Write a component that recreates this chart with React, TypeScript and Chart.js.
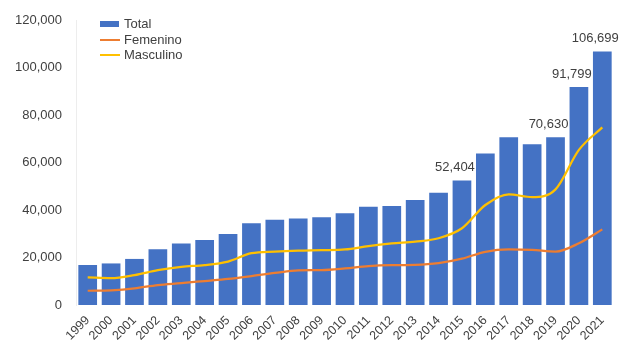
import React, { useEffect, useRef } from "react";
import { Chart, registerables } from "chart.js";

Chart.register(...registerables);

const years = ["1999","2000","2001","2002","2003","2004","2005","2006","2007","2008","2009","2010","2011","2012","2013","2014","2015","2016","2017","2018","2019","2020","2021"];
const total = [16840,17500,19400,23450,25900,27400,29900,34400,35900,36400,36900,38600,41400,41700,44200,47300,52404,63800,70600,67700,70630,91799,106699];
const femenino = [6000,6200,7000,8400,9200,10100,11000,12200,13500,14600,14700,15400,16400,16800,16900,17600,19500,22400,23400,23200,22500,26000,31850];
const masculino = [11600,11300,12600,14700,16100,16800,18300,21800,22500,22900,23100,23400,24800,25900,26700,28100,32300,42100,46600,45400,48700,65300,74800];
const labeledYears = ["2015","2019","2020","2021"];
const yTicks = [0, 20000, 40000, 60000, 80000, 100000, 120000];

const fmt = (v: number) => v.toLocaleString("en-US");

const FONT = "'Liberation Sans', Arial, sans-serif";
const TEXT = "#404040";

const barLabelPlugin = {
  id: "barLabels",
  afterDatasetsDraw(chart: any) {
    const ctx = chart.ctx;
    const meta = chart.getDatasetMeta(0);
    ctx.save();
    ctx.font = `13px ${FONT}`;
    ctx.fillStyle = TEXT;
    ctx.textAlign = "center";
    ctx.textBaseline = "middle";
    meta.data.forEach((el: any, i: number) => {
      const year = chart.data.labels[i];
      if (!labeledYears.includes(year)) return;
      const v = chart.data.datasets[0].data[i];
      ctx.fillText(fmt(v), el.x - 7, el.y - 13);
    });
    ctx.restore();
  },
};

const legendPlugin = {
  id: "customLegend",
  afterDraw(chart: any) {
    const ctx = chart.ctx;
    const x0 = 100;
    const ys = [24, 40, 55];
    ctx.save();
    ctx.font = `13px ${FONT}`;
    ctx.textBaseline = "middle";
    ctx.textAlign = "left";
    chart.data.datasets.forEach((ds: any, i: number) => {
      const y = ys[i];
      if (ds.type === "bar") {
        ctx.fillStyle = ds.backgroundColor;
        ctx.fillRect(x0, y - 3, 19, 6);
      } else {
        ctx.strokeStyle = ds.borderColor;
        ctx.lineWidth = 2;
        ctx.beginPath();
        ctx.moveTo(x0, y);
        ctx.lineTo(x0 + 20, y);
        ctx.stroke();
      }
      ctx.fillStyle = TEXT;
      ctx.fillText(ds.label, x0 + 24, y);
    });
    ctx.restore();
  },
};

export default function App() {
  const ref = useRef<HTMLCanvasElement | null>(null);
  useEffect(() => {
    document.body.style.margin = "0";
    const canvas = ref.current!;
    const chart = new Chart(canvas, {
      data: {
        labels: years,
        datasets: [
          {
            type: "bar",
            label: "Total",
            data: total,
            backgroundColor: "#4472C4",
            categoryPercentage: 1,
            barPercentage: 0.8,
            order: 3,
          },
          {
            type: "line",
            label: "Femenino",
            data: femenino,
            borderColor: "#ED7D31",
            borderWidth: 2.25,
            pointRadius: 0,
            cubicInterpolationMode: "monotone",
            order: 1,
          },
          {
            type: "line",
            label: "Masculino",
            data: masculino,
            borderColor: "#FFC000",
            borderWidth: 2.25,
            pointRadius: 0,
            cubicInterpolationMode: "monotone",
            order: 2,
          },
        ],
      } as any,
      options: {
        animation: false,
        responsive: false,
        layout: { padding: { top: 20, right: 20, left: 6, bottom: 0 } },
        plugins: { legend: { display: false }, tooltip: { enabled: false } },
        scales: {
          x: {
            grid: { display: false },
            border: { display: false },
            ticks: {
              color: TEXT,
              font: { family: FONT, size: 12.5 },
              maxRotation: 45,
              minRotation: 45,
              autoSkip: false,
              padding: 0,
            },
            afterFit: (axis: any) => { axis.height = 40; },
          },
          y: {
            min: 0,
            max: 120000,
            afterBuildTicks: (axis: any) => { axis.ticks = yTicks.map((v) => ({ value: v })); },
            grid: { display: false },
            border: { display: true, color: "#EDEDED" },
            ticks: {
              color: TEXT,
              font: { family: FONT, size: 13 },
              padding: 6,
              callback: (v: any) => fmt(Number(v)),
            },
            afterFit: (axis: any) => { axis.width = 70; },
          },
        },
      } as any,
      plugins: [barLabelPlugin, legendPlugin],
    });
    return () => chart.destroy();
  }, []);
  return <canvas ref={ref} width={634} height={345} style={{ display: "block" }} />;
}
